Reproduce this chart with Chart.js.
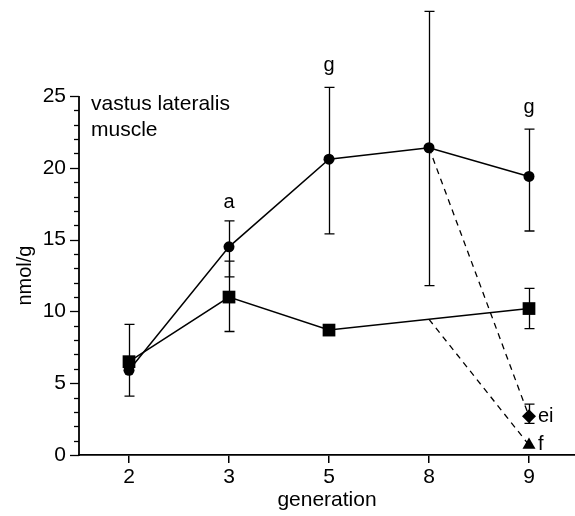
<!DOCTYPE html>
<html><head><meta charset="utf-8">
<script src="https://cdn.jsdelivr.net/npm/chart.js@4.4.0/dist/chart.umd.min.js"></script>
<style>
html,body{margin:0;padding:0;overflow:hidden;background:#fff;width:575px;height:516px}
#wrap{position:relative;width:579px;height:516px}
canvas{display:block}
</style>
</head><body><div id="wrap"><canvas id="c" width="579" height="516" style="width:579px;height:516px"></canvas></div>
<script>
// ---- data ----
const generations = ['2', '3', '5', '8', '9'];
const circleMean = [5.9, 14.5, 20.6, 21.4, 19.4];
const circleLow  = [null, 12.4, 15.4, 11.8, 15.6];
const circleHigh = [null, 16.3, 25.6, 30.9, 22.7];
const squareMean = [6.5, 11.0, 8.7, null, 10.2];
const squareLow  = [4.1, 8.6, null, null, 8.8];
const squareHigh = [9.1, 13.5, null, null, 11.6];
const dashToDiamond  = [null, null, null, 21.4, 2.7];
const dashToTriangle = [null, null, null, 9.45, 0.7];
const diamondMean = [null, null, null, null, 2.7];
const diamondLow  = [null, null, null, null, 2.2];
const diamondHigh = [null, null, null, null, 3.55];
const triangleMean = [null, null, null, null, 0.7];
const yTickValues = [0, 5, 10, 15, 20, 25];
const yMinorValues = [0,1,2,3,4,5,6,7,8,9,10,11,12,13,14,15,16,17,18,19,20,21,22,23,24,25];
const letterLabels = [
  {gen: '3', value: 17.6, text: 'a'},
  {gen: '5', value: 27.1, text: 'g'},
  {gen: '9', value: 24.2, text: 'g'}
];
const sideLabels = [
  {gen: '9', value: 2.7, text: 'ei'},
  {gen: '9', value: 0.7, text: 'f'}
];
const panelText = ['vastus lateralis', 'muscle'];
const yTitle = 'nmol/g';
const xTitle = 'generation';

const FONT = '"Liberation Sans", Arial, sans-serif';

const errorBarPlugin = {
  id: 'errorBars',
  beforeDatasetsDraw(chart) {
    const {ctx, scales: {x, y}} = chart;
    const sets = [[circleLow, circleHigh], [squareLow, squareHigh], [diamondLow, diamondHigh]];
    ctx.save();
    ctx.strokeStyle = '#000';
    ctx.lineWidth = 1.3;
    sets.forEach(([lo, hi]) => {
      generations.forEach((g, i) => {
        if (lo[i] == null || hi[i] == null) return;
        const px = Math.round(x.getPixelForValue(i)) + 0.5;
        const y1 = y.getPixelForValue(lo[i]);
        const y2 = y.getPixelForValue(hi[i]);
        ctx.beginPath();
        ctx.moveTo(px, y1); ctx.lineTo(px, y2);
        ctx.moveTo(px - 5, y1); ctx.lineTo(px + 5, y1);
        ctx.moveTo(px - 5, y2); ctx.lineTo(px + 5, y2);
        ctx.stroke();
      });
    });
    ctx.restore();
  },
  afterDraw(chart) {
    const {ctx, scales: {x, y}, chartArea} = chart;
    ctx.save();
    const ax = chartArea.left;
    ctx.strokeStyle = '#000';
    ctx.lineWidth = 1.8;
    ctx.beginPath();
    ctx.moveTo(ax, y.getPixelForValue(0) + 1);
    ctx.lineTo(ax, y.getPixelForValue(25));
    ctx.stroke();
    ctx.lineWidth = 1.3;
    yMinorValues.forEach(v => {
      const py = Math.round(y.getPixelForValue(v)) + 0.5;
      const len = yTickValues.includes(v) ? 9 : 5;
      ctx.beginPath();
      ctx.moveTo(ax - len, py); ctx.lineTo(ax, py);
      ctx.stroke();
    });
    ctx.fillStyle = '#000';
    ctx.font = '20px ' + FONT;
    ctx.textAlign = 'center';
    ctx.textBaseline = 'middle';
    letterLabels.forEach(l => {
      ctx.fillText(l.text, x.getPixelForValue(generations.indexOf(l.gen)), y.getPixelForValue(l.value));
    });
    ctx.textAlign = 'left';
    sideLabels.forEach(l => {
      ctx.fillText(l.text, x.getPixelForValue(generations.indexOf(l.gen)) + 9, y.getPixelForValue(l.value));
    });
    ctx.font = '21px ' + FONT;
    panelText.forEach((t, i) => {
      ctx.fillText(t, 91, 104 + i * 26);
    });
    // axis titles
    ctx.textAlign = 'center';
    ctx.font = '21px ' + FONT;
    ctx.fillText(xTitle, (chartArea.left + 575) / 2, 500);
    ctx.font = '20px ' + FONT;
    ctx.translate(25, (y.getPixelForValue(0) + y.getPixelForValue(25)) / 2);
    ctx.rotate(-Math.PI / 2);
    ctx.fillText(yTitle, 0, 0);
    ctx.restore();
  }
};

new Chart(document.getElementById('c'), {
  type: 'line',
  data: {
    labels: generations,
    datasets: [
      {data: squareMean, spanGaps: true, borderColor: '#000', borderWidth: 1.5,
       pointStyle: 'rect', pointRadius: 9, pointBackgroundColor: '#000', pointBorderWidth: 0, clip: false},
      {data: circleMean, borderColor: '#000', borderWidth: 1.5,
       pointStyle: 'circle', pointRadius: 5.5, pointBackgroundColor: '#000', pointBorderWidth: 0, clip: false},
      {data: diamondMean, showLine: false, pointStyle: 'rectRot', pointRadius: 7,
       pointBackgroundColor: '#000', pointBorderWidth: 0, clip: false},
      {data: triangleMean, showLine: false, pointStyle: 'triangle', pointRadius: 7.5,
       pointBackgroundColor: '#000', pointBorderWidth: 0, clip: false},
      {data: dashToDiamond, borderColor: '#000', borderWidth: 1.3, borderDash: [6, 5], pointRadius: 0},
      {data: dashToTriangle, borderColor: '#000', borderWidth: 1.3, borderDash: [6, 5], pointRadius: 0}
    ]
  },
  options: {
    responsive: false,
    animation: false,
    devicePixelRatio: 1,
    layout: {padding: 0, autoPadding: false},
    plugins: {legend: {display: false}, tooltip: {enabled: false}},
    elements: {line: {tension: 0}},
    scales: {
      x: {
        type: 'category',
        offset: true,
        grid: {drawOnChartArea: false, drawTicks: true, tickLength: 8, color: '#000', lineWidth: 1.5},
        border: {display: true, color: '#000', width: 1.8},
        ticks: {color: '#000', font: {family: FONT, size: 21}, padding: 2, maxRotation: 0, autoSkip: false},
        title: {display: false},
        afterFit(s) { s.height = 61; s.paddingLeft = 0; s.paddingRight = 0; }
      },
      y: {
        type: 'linear',
        min: 0,
        max: 31.69,
        afterBuildTicks(s) { s.ticks = yTickValues.map(v => ({value: v})); },
        grid: {display: false, drawTicks: false},
        border: {display: false},
        ticks: {color: '#000', font: {family: FONT, size: 21}, padding: 13},
        title: {display: false},
        afterFit(s) { s.width = 79; s.paddingTop = 0; s.paddingBottom = 0; }
      }
    }
  },
  plugins: [errorBarPlugin]
});
</script>
</body></html>
